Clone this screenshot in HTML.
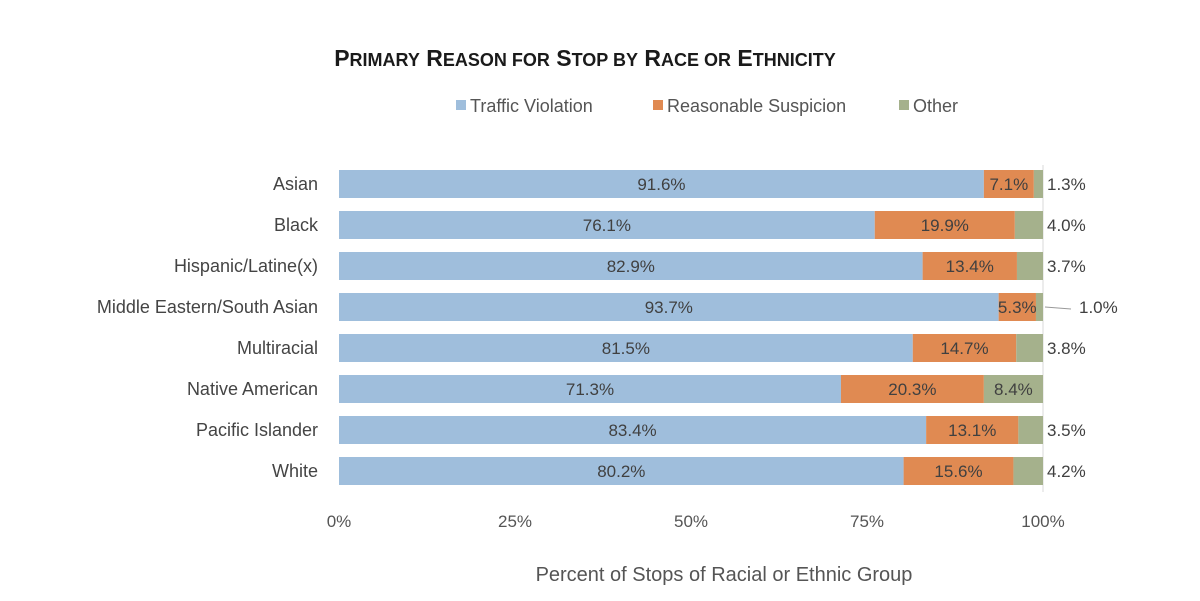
<!DOCTYPE html>
<html><head><meta charset="utf-8"><style>
body{margin:0;background:#fff;}
svg text{font-family:"Liberation Sans","DejaVu Sans",sans-serif;}
</style></head><body>
<svg width="1200" height="596" viewBox="0 0 1200 596">
<text id="title" x="585" y="66" text-anchor="middle" font-weight="bold" fill="#1a1a1a" style="font-family:'Liberation Sans',sans-serif;font-weight:bold"></text>
<g id="legend"></g>
<g id="plot"></g>
<text x="724" y="581" text-anchor="middle" font-size="20" fill="#555">Percent of Stops of Racial or Ethnic Group</text>
</svg>
<script>
const categories=["Asian","Black","Hispanic/Latine(x)","Middle Eastern/South Asian","Multiracial","Native American","Pacific Islander","White"];
const traffic=[91.6,76.1,82.9,93.7,81.5,71.3,83.4,80.2];
const suspicion=[7.1,19.9,13.4,5.3,14.7,20.3,13.1,15.6];
const other=[1.3,4.0,3.7,1.0,3.8,8.4,3.5,4.2];
const ticks=[0,25,50,75,100];
const seriesNames=["Traffic Violation","Reasonable Suspicion","Other"];
const colors=["#9fbedc","#e08a52","#a5b18c"];
const NS="http://www.w3.org/2000/svg";
const X0=339,W=704,Y0=184,STEP=41,BH=28;
const xs=v=>X0+v/100*W, ys=i=>Y0+i*STEP;
const plot=document.getElementById('plot');
function mk(t,a,p){const e=document.createElementNS(NS,t);for(const k in a)e.setAttribute(k,a[k]);(p||plot).appendChild(e);return e;}
// title small caps
const title=document.getElementById('title');
"Primary Reason for Stop by Race or Ethnicity".split(' ').forEach((w,i)=>{
 const cap=w[0]===w[0].toUpperCase();
 const a=mk('tspan',{'font-size':cap?23:18},title);a.textContent=(i?' ':'')+(cap?w[0]:w[0].toUpperCase());
 const b=mk('tspan',{'font-size':18},title);b.textContent=w.slice(1).toUpperCase();
});
const vl=mk('line',{x1:xs(100),x2:xs(100),y1:165,y2:492,stroke:'#d9d9d9'});


ticks.forEach(t=>{const e=mk('text',{x:xs(t),y:527,'text-anchor':'middle','font-size':17,fill:'#555'});e.textContent=t+'%';

});
const series=[traffic,suspicion,other];
categories.forEach((c,i)=>{
 const y=ys(i);
 const l=mk('text',{x:318,y:y+6,'text-anchor':'end','font-size':18,fill:'#444'});l.textContent=c;
 
 
 let acc=0;
 series.forEach((s,k)=>{
  const v=s[i];
  const r=mk('rect',{x:xs(acc),y:y-BH/2,width:xs(acc+v)-xs(acc),height:BH,fill:colors[k]});
  
  
  let tx=(xs(acc)+xs(acc+v))/2,anchor='middle';
  if(k==2&&v<5){tx=xs(100)+4;anchor='start';}
  if(k==2&&v<1.2){tx=xs(100)+36;const ln=mk('line',{x1:xs(100)+2,x2:xs(100)+28,y1:y,y2:y+2,stroke:'#999'});
   
   }
  const t=mk('text',{x:tx,y:y+6,'text-anchor':anchor,'font-size':17,fill:'#404040'});
  t.textContent=v.toFixed(1)+'%';
  
  
  acc+=v;
 });
});
const lg=document.getElementById('legend');
const lx=[456,653,899];
seriesNames.forEach((n,k)=>{
 const r=mk('rect',{x:lx[k],y:100,width:10,height:10,fill:colors[k]},lg);
 
 
 const t=mk('text',{x:lx[k]+14,y:112,'font-size':18,fill:'#555'},lg);t.textContent=n;
 
 
});
</script>
</body></html>
